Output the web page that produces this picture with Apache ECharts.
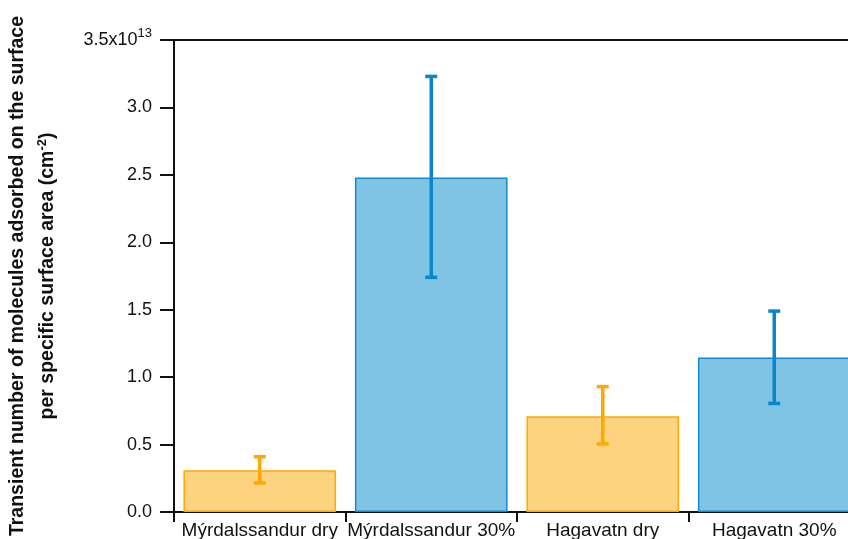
<!DOCTYPE html>
<html>
<head>
<meta charset="utf-8">
<script src="https://cdn.jsdelivr.net/npm/echarts@6/dist/echarts.min.js"></script>
<style>html,body{margin:0;padding:0;background:#fff;}#c{width:848px;height:539px;}</style>
</head>
<body>
<div id="c"></div>
<script>
const categories = ['Mýrdalssandur dry', 'Mýrdalssandur 30%', 'Hagavatn dry', 'Hagavatn 30%'];
const conditions = ['dry', 'wet', 'dry', 'wet'];
const values = [0.31, 2.48, 0.71, 1.145];
const errLow = [0.215, 1.74, 0.505, 0.805];
const errHigh = [0.41, 3.23, 0.93, 1.49];
const yTicks = [0, 0.5, 1.0, 1.5, 2.0, 2.5, 3.0, 3.5];

const palette = {
  dry: { fill: '#FDD37F', border: '#FFA800', err: '#FFA800' },
  wet: { fill: '#7FC3E5', border: '#1589D0', err: '#0A86CC' }
};

const chart = echarts.init(document.getElementById('c'), null, { renderer: 'canvas' });

const barData = values.map((v, i) => ({
  value: v,
  itemStyle: { color: palette[conditions[i]].fill, borderColor: palette[conditions[i]].border, borderWidth: 1.5 }
}));
const errData = categories.map((c, i) => [i, errLow[i], errHigh[i]]);
const FF = 'Liberation Sans, Arial';

chart.setOption({
  animation: false,
  backgroundColor: '#fff',
  grid: { left: 174, right: -12, top: 40, bottom: 27, containLabel: false, outerBoundsMode: 'none', show: true, borderColor: '#111', borderWidth: 2, backgroundColor: 'transparent' },
  xAxis: {
    type: 'category',
    data: categories,
    axisLine: { lineStyle: { color: '#111', width: 2 } },
    axisTick: { show: true, length: 10, lineStyle: { color: '#111', width: 2 } },
    axisLabel: { color: '#111', fontSize: 19, fontFamily: FF, margin: 9, interval: 0, hideOverlap: false }
  },
  yAxis: {
    type: 'value',
    min: 0, max: 3.5, interval: 0.5,
    splitLine: { show: false },
    axisLine: { show: true, lineStyle: { color: '#111', width: 2 } },
    axisTick: { show: true, length: 14, lineStyle: { color: '#111', width: 2 } },
    axisLabel: {
      color: '#111', fontSize: 18, fontFamily: FF, margin: 22,
      formatter: function (v) {
        if (Math.abs(v - 3.5) < 1e-9) return '3.5x10{sup|13}';
        return v.toFixed(1);
      },
      rich: { sup: { fontSize: 13, verticalAlign: 'bottom', padding: [0, 0, 13, 0], fontFamily: FF, color: '#111' } }
    },
    name: 'Transient number of molecules adsorbed on the surface\n{t|per specific surface area (cm}{sup|-2}{t|)}',
    nameLocation: 'middle',
    nameGap: 111,
    nameRotate: 90,
    nameTextStyle: {
      fontSize: 19.5, fontWeight: 'bold', fontFamily: FF, color: '#111', lineHeight: 30,
      rich: {
        t: { fontSize: 19.5, fontWeight: 'bold', fontFamily: FF, color: '#111', lineHeight: 30 },
        sup: { fontSize: 13, fontWeight: 'bold', fontFamily: FF, color: '#111', verticalAlign: 'bottom', padding: [0, 0, 14, 0], lineHeight: 30 }
      }
    }
  },
  series: [
    {
      type: 'bar',
      data: barData,
      barCategoryGap: '11%'
    },
    {
      type: 'custom',
      data: errData,
      z: 10,
      renderItem: function (params, api) {
        const i = api.value(0);
        const lo = api.coord([i, api.value(1)]);
        const hi = api.coord([i, api.value(2)]);
        const col = palette[conditions[i]].err;
        const hw = 6;
        const st = { stroke: col, lineWidth: 3.5 };
        return {
          type: 'group',
          children: [
            { type: 'line', shape: { x1: lo[0], y1: lo[1], x2: hi[0], y2: hi[1] }, style: st },
            { type: 'line', shape: { x1: hi[0] - hw, y1: hi[1], x2: hi[0] + hw, y2: hi[1] }, style: st },
            { type: 'line', shape: { x1: lo[0] - hw, y1: lo[1], x2: lo[0] + hw, y2: lo[1] }, style: st }
          ]
        };
      }
    }
  ]
});
</script>
</body>
</html>
